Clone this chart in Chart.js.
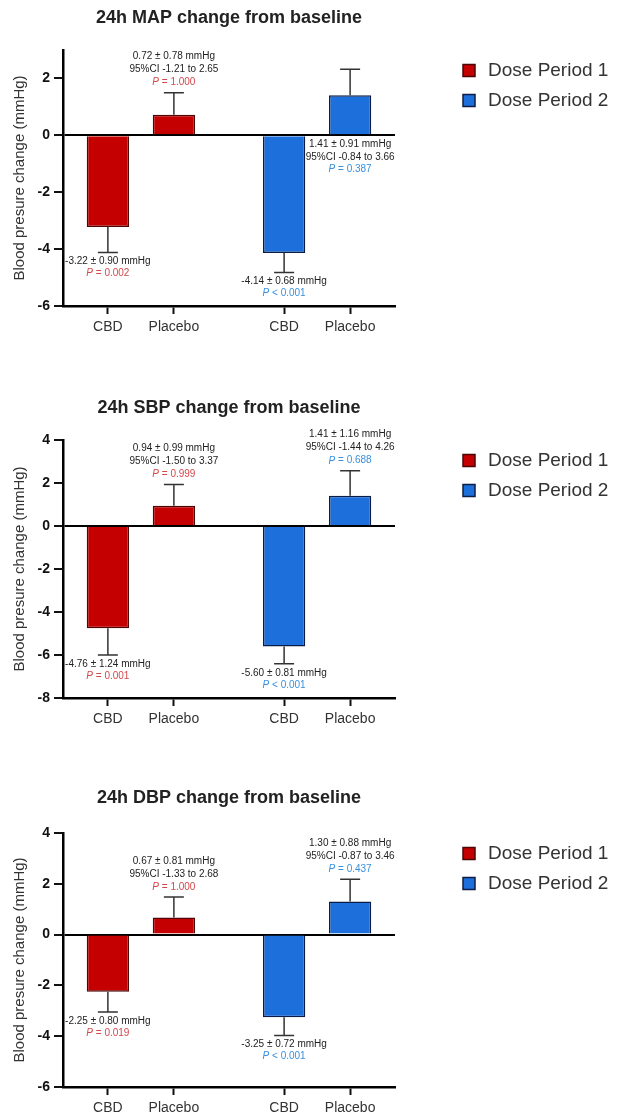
<!DOCTYPE html>
<html>
<head>
<meta charset="utf-8">
<title>24h blood pressure change from baseline</title>
<script src="https://cdn.jsdelivr.net/npm/chart.js@4.4.1/dist/chart.umd.min.js"></script>
<style>
  body { margin: 0; background: #fff; }
  .panel { position: absolute; left: 0; width: 634px; }
</style>
</head>
<body>
<div class="panel" style="top:0;height:340px"><canvas id="map-chart"></canvas></div>
<div class="panel" style="top:390px;height:342px"><canvas id="sbp-chart"></canvas></div>
<div class="panel" style="top:780px;height:338px"><canvas id="dbp-chart"></canvas></div>
<script>
// Chart data
const periods = ['Dose Period 1', 'Dose Period 2'];
const treatments = ['CBD', 'Placebo', 'CBD', 'Placebo'];
const yAxisTitle = 'Blood presure change (mmHg)';

const mapTitle = '24h MAP change from baseline';
const mapMean = [-3.22, 0.72, -4.14, 1.41];
const mapSem = [0.90, 0.78, 0.68, 0.91];
const mapCI = [null, '-1.21 to 2.65', null, '-0.84 to 3.66'];
const mapP = ['= 0.002', '= 1.000', '< 0.001', '= 0.387'];
const mapTicks = [-6, -4, -2, 0, 2];
const mapRange = [-6, 3];

const sbpTitle = '24h SBP change from baseline';
const sbpMean = [-4.76, 0.94, -5.60, 1.41];
const sbpSem = [1.24, 0.99, 0.81, 1.16];
const sbpCI = [null, '-1.50 to 3.37', null, '-1.44 to 4.26'];
const sbpP = ['= 0.001', '= 0.999', '< 0.001', '= 0.688'];
const sbpTicks = [-8, -6, -4, -2, 0, 2, 4];
const sbpRange = [-8, 4];

const dbpTitle = '24h DBP change from baseline';
const dbpMean = [-2.25, 0.67, -3.25, 1.30];
const dbpSem = [0.80, 0.81, 0.72, 0.88];
const dbpCI = [null, '-1.33 to 2.68', null, '-0.87 to 3.46'];
const dbpP = ['= 0.019', '= 1.000', '< 0.001', '= 0.437'];
const dbpTicks = [-6, -4, -2, 0, 2, 4];
const dbpRange = [-6, 4];

// Styles
const FONT = '"Liberation Sans", Arial, sans-serif';
const periodFill = ['#c40000', '#1d6fdc'];
const periodEdge = ['#4d0505', '#0c1d45'];
const pColor = ['#d4474a', '#3a90dc'];
const groupStep = 2.67; // distance between the two dose period groups, in bar slots

// x position of bar k (two bars per dose period)
function slotOf(k) {
  return (k % 2) + Math.floor(k / 2) * groupStep;
}

// Draw a line of text made of differently styled parts, centred on cx
function drawParts(ctx, parts, cx, cy) {
  let total = 0;
  parts.forEach(part => {
    ctx.font = part.font;
    total += ctx.measureText(part.text).width;
  });
  let x = cx - total / 2;
  parts.forEach(part => {
    ctx.font = part.font;
    ctx.fillStyle = part.color;
    ctx.fillText(part.text, x, cy);
    x += ctx.measureText(part.text).width;
  });
}

// Error bars (away from zero) plus the mean / CI / P annotations
const errorBarPlugin = {
  id: 'errorBars',
  afterDatasetsDraw(chart, args, opts) {
    const ctx = chart.ctx;
    const yScale = chart.scales.y;
    const plain = '10px ' + FONT;
    const italic = 'italic 10px ' + FONT;

    ctx.save();
    ctx.textBaseline = 'middle';
    ctx.textAlign = 'left';

    chart.data.datasets.forEach((ds, di) => {
      chart.getDatasetMeta(di).data.forEach((bar, j) => {
        const k = di * 2 + j;
        const mean = opts.mean[k];
        const sem = opts.sem[k];
        const up = mean >= 0;
        const end = yScale.getPixelForValue(up ? mean + sem : mean - sem);

        // whisker and cap
        ctx.strokeStyle = '#333';
        ctx.lineWidth = 1.5;
        ctx.beginPath();
        ctx.moveTo(bar.x, bar.y);
        ctx.lineTo(bar.x, end);
        ctx.moveTo(bar.x - 10, end);
        ctx.lineTo(bar.x + 10, end);
        ctx.stroke();

        // annotation lines
        const lines = [[{ text: mean.toFixed(2) + ' \u00b1 ' + sem.toFixed(2) + ' mmHg', font: plain, color: '#222' }]];
        if (opts.ci[k]) {
          lines.push([{ text: '95%CI ' + opts.ci[k], font: plain, color: '#222' }]);
        }
        lines.push([
          { text: 'P', font: italic, color: pColor[di] },
          { text: ' ' + opts.p[k], font: plain, color: pColor[di] }
        ]);

        if (k === opts.flip) {
          // no room above: put it under the zero line
          const y0 = yScale.getPixelForValue(0) + 9;
          lines.forEach((line, i) => drawParts(ctx, line, bar.x, y0 + i * 12.5));
        } else if (up) {
          const yLast = end - 10;
          lines.forEach((line, i) => drawParts(ctx, line, bar.x, yLast - (lines.length - 1 - i) * 13));
        } else {
          lines.forEach((line, i) => drawParts(ctx, line, bar.x, end + 9 + i * 12));
        }
      });
    });
    ctx.restore();
  }
};

// Render one panel
function renderPanel(id, title, mean, sem, ci, pValues, ticks, range, titleGap, padBottom, flip) {
  const ctx = document.getElementById(id).getContext('2d');

  return new Chart(ctx, {
    type: 'bar',
    data: {
      datasets: periods.map((label, pi) => ({
        label: label,
        data: [0, 1].map(j => ({ x: slotOf(pi * 2 + j), y: mean[pi * 2 + j] })),
        backgroundColor: periodFill[pi],
        borderColor: periodEdge[pi],
        borderWidth: 1.5,
        grouped: false,
        categoryPercentage: 1,
        barPercentage: 0.64
      }))
    },
    options: {
      responsive: true,
      maintainAspectRatio: false,
      animation: false,
      layout: {
        padding: { left: 8, right: 25.5, top: 0, bottom: padBottom }
      },
      plugins: {
        title: {
          display: true,
          text: title,
          fullSize: false,
          color: '#222',
          font: { family: FONT, size: 18, weight: 'bold' },
          padding: { top: 7, bottom: titleGap }
        },
        legend: {
          position: 'right',
          align: 'start',
          fullSize: false,
          maxWidth: 160,
          labels: {
            usePointStyle: true,
            pointStyle: 'rect',
            boxWidth: 19,
            boxHeight: 12,
            padding: 11,
            color: '#333',
            font: { family: FONT, size: 19 }
          }
        },
        tooltip: { enabled: false },
        errorBars: { mean: mean, sem: sem, ci: ci, p: pValues, flip: flip }
      },
      scales: {
        x: {
          type: 'linear',
          offset: false,
          min: -0.68,
          max: 1 + groupStep + 0.68,
          afterBuildTicks: scale => {
            scale.ticks = treatments.map((_, k) => ({ value: slotOf(k) }));
          },
          afterFit: scale => { scale.height = 30; },
          ticks: {
            autoSkip: false,
            maxRotation: 0,
            padding: 5,
            color: '#333',
            font: { family: FONT, size: 14 },
            callback: (value, index) => treatments[index]
          },
          grid: {
            offset: false,
            drawOnChartArea: false,
            tickLength: 8,
            tickWidth: 2,
            tickColor: '#111'
          },
          border: { color: '#000', width: 2.5 }
        },
        y: {
          min: range[0],
          max: range[1],
          afterBuildTicks: scale => {
            scale.ticks = ticks.map(v => ({ value: v }));
          },
          afterFit: scale => { scale.width = 55; },
          ticks: {
            padding: 4,
            color: '#111',
            font: { family: FONT, size: 14, weight: 'bold' }
          },
          grid: {
            color: c => (c.tick && c.tick.value === 0 ? '#000' : 'rgba(0,0,0,0)'),
            lineWidth: 2,
            tickLength: 9,
            tickWidth: 2,
            tickColor: '#111'
          },
          border: { color: '#000', width: 2.5 },
          title: {
            display: true,
            text: yAxisTitle,
            color: '#333',
            font: { family: FONT, size: 15 },
            padding: { top: 3, bottom: 0 }
          }
        },
        // spacer between the plot and the legend
        gap: {
          type: 'linear',
          position: 'right',
          afterFit: scale => { scale.width = 53.5; },
          ticks: { display: false },
          grid: { display: false },
          border: { display: false }
        }
      }
    },
    plugins: [errorBarPlugin]
  });
}

renderPanel('map-chart', mapTitle, mapMean, mapSem, mapCI, mapP, mapTicks, mapRange, 21.4, 4, 3);
renderPanel('sbp-chart', sbpTitle, sbpMean, sbpSem, sbpCI, sbpP, sbpTicks, sbpRange, 21.4, 4, -1);
renderPanel('dbp-chart', dbpTitle, dbpMean, dbpSem, dbpCI, dbpP, dbpTicks, dbpRange, 24.4, 1, -1);
</script>
</body>
</html>
